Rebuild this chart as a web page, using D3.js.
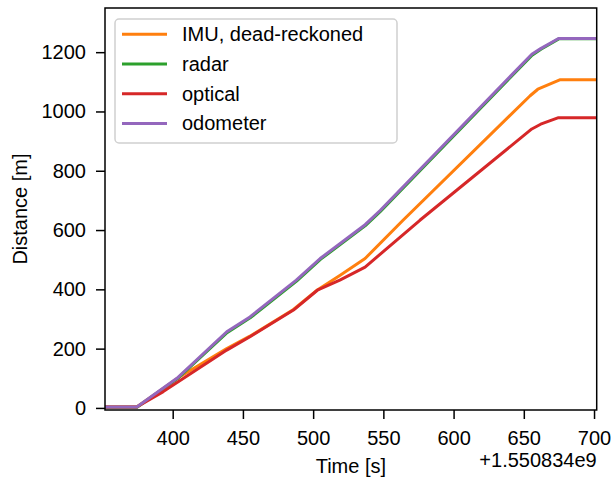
<!DOCTYPE html>
<html>
<head>
<meta charset="utf-8">
<script src="https://cdn.jsdelivr.net/npm/d3@7"></script>
<style>
  body { margin: 0; background: #fff; }
  text { font-family: "Liberation Sans", Arial, Helvetica, sans-serif; fill: #000; }
</style>
</head>
<body>
<div id="graphics"></div>
<script>
// time values are offsets from 1.550834e9 s
const timeOffsetLabel = '+1.550834e9';

const imuT = [352, 374.4, 390, 405, 438.5, 455, 486, 503, 519, 537, 564, 654.5, 660, 676, 702];
const imuD = [3, 3, 55, 105, 200, 242, 332, 398, 447, 504, 633, 1053, 1075, 1107, 1107];

const radarT = [352, 374.6, 403.2, 438.7, 455.2, 488.2, 505.2, 537.2, 547.9, 655.9, 662.2, 674.9, 702];
const radarD = [2, 2, 98, 254, 304, 428, 501, 615, 663, 1190, 1210, 1245, 1245];

const opticalT = [352, 374.4, 393.3, 438.5, 455, 486, 503, 519, 537, 576, 655.7, 662, 674.7, 702];
const opticalD = [3, 3, 55, 195, 240, 330, 397, 431, 475, 633, 941, 957, 979, 979];

const odoT = [352, 374.4, 403, 438.5, 455, 488, 505, 537, 547.7, 655.7, 662, 674.7, 702];
const odoD = [3, 3, 100, 257, 307, 431, 504, 618, 666, 1193, 1212, 1246, 1246];

const seriesNames = ['IMU, dead-reckoned', 'radar', 'optical', 'odometer'];
const seriesColors = ['#ff7f0e', '#2ca02c', '#d62728', '#9467bd'];

const xTicks = [400, 450, 500, 550, 600, 650, 700];
const yTicks = [0, 200, 400, 600, 800, 1000, 1200];

const xDomain = [351.8, 701.9];
const yDomain = [-7, 1349];

const margin = { top: 8, left: 105, right: 16.3, bottom: 68 };
const totalW = 613, totalH = 478;
const width = totalW - margin.left - margin.right;
const height = totalH - margin.top - margin.bottom;

const svg = d3.select('#graphics')
  .append('svg')
  .attr('width', totalW)
  .attr('height', totalH)
  .append('g')
  .attr('transform', 'translate(' + margin.left + ',' + margin.top + ')');

const xPositionScale = d3.scaleLinear().domain(xDomain).range([0, width]);
const yPositionScale = d3.scaleLinear().domain(yDomain).range([height, 0]);

const series = [
  { t: imuT, d: imuD },
  { t: radarT, d: radarD },
  { t: opticalT, d: opticalD },
  { t: odoT, d: odoD }
].map((s, i) => ({
  name: seriesNames[i],
  color: seriesColors[i],
  values: s.t.map((t, j) => ({ t: t, d: s.d[j] }))
}));

const line = d3.line()
  .x((d) => xPositionScale(d.t))
  .y((d) => yPositionScale(d.d));

svg.append('clipPath').attr('id', 'clip')
  .append('rect').attr('width', width).attr('height', height);

svg.append('g').attr('clip-path', 'url(#clip)')
  .selectAll('path')
  .data(series)
  .enter()
  .append('path')
  .attr('d', (d) => line(d.values))
  .attr('fill', 'none')
  .attr('stroke', (d) => d.color)
  .attr('stroke-width', 3)
  .attr('stroke-linejoin', 'round')
  .attr('stroke-linecap', 'square');

// axes
const xAxis = svg.append('g')
  .attr('transform', 'translate(0,' + height + ')')
  .call(d3.axisBottom(xPositionScale).tickValues(xTicks).tickSizeInner(9).tickSizeOuter(0).tickPadding(12).tickFormat(d3.format('d')));

const yAxis = svg.append('g')
  .call(d3.axisLeft(yPositionScale).tickValues(yTicks).tickSizeInner(9).tickSizeOuter(0).tickPadding(10).tickFormat(d3.format('d')));

[xAxis, yAxis].forEach((ax) => {
  ax.select('.domain').remove();
  ax.selectAll('line').attr('stroke', '#000').attr('stroke-width', 1.5);
  ax.selectAll('text').attr('font-size', 20).attr('font-family', '"Liberation Sans", Arial, sans-serif').attr('fill', '#000');
});

// frame
svg.append('rect')
  .attr('width', width)
  .attr('height', height)
  .attr('fill', 'none')
  .attr('stroke', '#000')
  .attr('stroke-width', 1.5);

// labels
svg.append('text')
  .text('Time [s]')
  .attr('x', width / 2)
  .attr('y', height + 63)
  .attr('text-anchor', 'middle')
  .attr('font-size', 20);

svg.append('text')
  .text(timeOffsetLabel)
  .attr('x', width)
  .attr('y', height + 57)
  .attr('text-anchor', 'end')
  .attr('font-size', 20);

svg.append('text')
  .text('Distance [m]')
  .attr('transform', 'translate(' + (-78) + ',' + (height / 2) + ') rotate(-90)')
  .attr('text-anchor', 'middle')
  .attr('font-size', 20);

// legend
const legend = svg.append('g').attr('transform', 'translate(10,11)');
legend.append('rect')
  .attr('width', 282)
  .attr('height', 124)
  .attr('rx', 4)
  .attr('fill', '#fff')
  .attr('fill-opacity', 0.8)
  .attr('stroke', '#d0d0d0')
  .attr('stroke-width', 1.5);

const entries = legend.selectAll('.entry')
  .data(series)
  .enter()
  .append('g')
  .attr('transform', (d, i) => 'translate(0,' + (15.3 + i * 29.7) + ')');

entries.append('line')
  .attr('x1', 7).attr('x2', 52)
  .attr('stroke', (d) => d.color)
  .attr('stroke-width', 3);

entries.append('text')
  .text((d) => d.name)
  .attr('x', 67)
  .attr('dy', '0.35em')
  .attr('font-size', 20);
</script>
</body>
</html>
